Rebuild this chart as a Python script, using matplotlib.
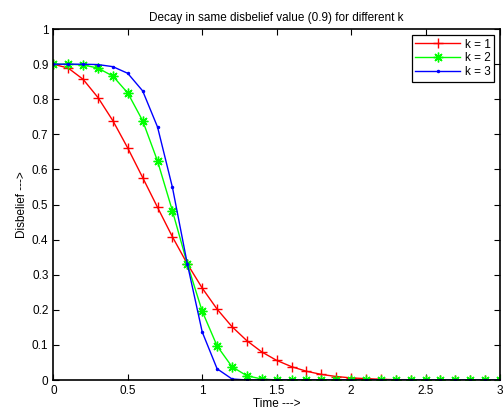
import matplotlib
matplotlib.use('Agg')
import matplotlib.pyplot as plt
import numpy as np

# time samples and disbelief values
time = [0.0, 0.1, 0.2, 0.3, 0.4, 0.5, 0.6, 0.7, 0.8, 0.9, 1.0,
        1.1, 1.2, 1.3, 1.4, 1.5, 1.6, 1.7, 1.8, 1.9, 2.0,
        2.1, 2.2, 2.3, 2.4, 2.5, 2.6, 2.7, 2.8, 2.9, 3.0]
k1 = [0.900, 0.889, 0.857, 0.805, 0.739, 0.661, 0.577, 0.492, 0.408, 0.331, 0.262,
      0.202, 0.152, 0.112, 0.080, 0.056, 0.038, 0.025, 0.016, 0.010, 0.006,
      0.004, 0.002, 0.001, 0.001, 0.000, 0.000, 0.000, 0.000, 0.000, 0.000]
k2 = [0.900, 0.900, 0.898, 0.889, 0.866, 0.818, 0.739, 0.624, 0.482, 0.331, 0.196,
      0.097, 0.038, 0.012, 0.003, 0.000, 0.000, 0.000, 0.000, 0.000, 0.000,
      0.000, 0.000, 0.000, 0.000, 0.000, 0.000, 0.000, 0.000, 0.000, 0.000]
k3 = [0.900, 0.900, 0.900, 0.899, 0.893, 0.874, 0.824, 0.721, 0.549, 0.331, 0.137,
      0.032, 0.003, 0.000, 0.000, 0.000, 0.000, 0.000, 0.000, 0.000, 0.000,
      0.000, 0.000, 0.000, 0.000, 0.000, 0.000, 0.000, 0.000, 0.000, 0.000]
labels = ['k = 1', 'k = 2', 'k = 3']

plt.rcParams['font.family'] = ['Liberation Sans', 'DejaVu Sans']

fig = plt.figure(figsize=(5.03, 4.16), dpi=100)
ax = fig.add_axes([0.106, 0.0865, 0.888, 0.8435])

# matlab style markers: plus, asterisk, point
ax.plot(time, k1, color='red', marker='+', markersize=7, linewidth=1, label=labels[0])
ax.plot(time, k2, color='#00ff00', marker=(8, 2, 0), markersize=7, markeredgewidth=1,
        linewidth=1, label=labels[1])
ax.plot(time, k3, color='blue', marker='.', markersize=3, linewidth=1, label=labels[2])

ax.set_xlim(0, 3)
ax.set_ylim(0, 1)
ax.set_xticks(np.arange(0, 3.01, 0.5))
ax.set_xticklabels(['0', '0.5', '1', '1.5', '2', '2.5', '3'])
ax.set_yticks(np.arange(0, 1.01, 0.1))
ax.set_yticklabels(['0', '0.1', '0.2', '0.3', '0.4', '0.5', '0.6', '0.7', '0.8', '0.9', '1'])
ax.tick_params(direction='in', top=True, right=True, labelsize=8.5, length=4, width=0.8)
for s in ax.spines.values():
    s.set_linewidth(1.2)

ax.set_title('Decay in same disbelief value (0.9) for different k', fontsize=8.5, pad=6)
ax.set_xlabel('Time --->', fontsize=8.5, labelpad=1)
ax.set_ylabel('Disbelief --->', fontsize=8.5, labelpad=3)

leg = ax.legend(loc='upper right', fontsize=8.5, fancybox=False, framealpha=1,
                edgecolor='black', borderaxespad=0.5, handlelength=3.8,
                labelspacing=0.15, borderpad=0.3, handletextpad=0.4)
leg.get_frame().set_linewidth(0.9)

fig.savefig('out.png', dpi=100)
